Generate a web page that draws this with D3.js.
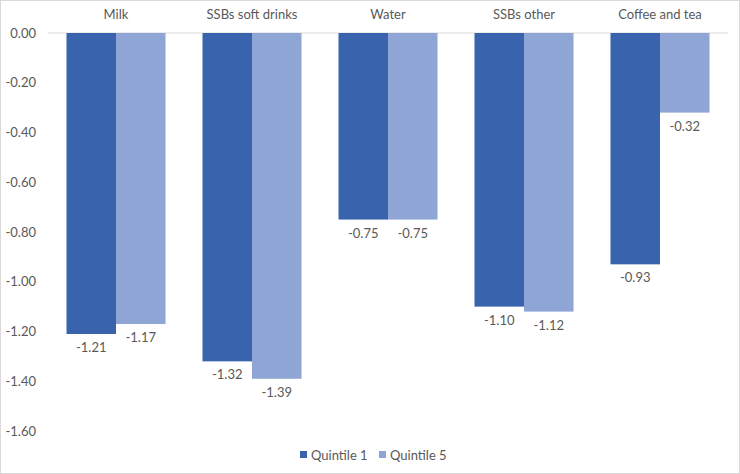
<!DOCTYPE html>
<html>
<head>
<meta charset="utf-8">
<script src="https://cdn.jsdelivr.net/npm/d3@7"></script>
<style>
  html, body { margin: 0; padding: 0; background: #fff; }
  svg { display: block; }
  text { font-family: Lato, "Open Sans", "Liberation Sans", sans-serif; fill: #595959; }
</style>
</head>
<body>
<svg id="chart" width="740" height="474"></svg>
<script>
const categories = ["Milk", "SSBs soft drinks", "Water", "SSBs other", "Coffee and tea"];
const seriesNames = ["Quintile 1", "Quintile 5"];
const quintile1 = [-1.21, -1.32, -0.75, -1.10, -0.93];
const quintile5 = [-1.17, -1.39, -0.75, -1.12, -0.32];
const yTicks = [0, -0.2, -0.4, -0.6, -0.8, -1.0, -1.2, -1.4, -1.6];
const colors = ["#3A63AD", "#8FA5D6"];

const W = 740, H = 474;
const margin = { left: 48, right: 12, top: 33, bottom: 43 };
const svg = d3.select("#chart");
const fmt = v => d3.format(".2f")(v).replace("\u2212", "-");

svg.append("rect").attr("x", 0.5).attr("y", 0.5).attr("width", W - 1).attr("height", H - 1)
  .attr("fill", "#fff").attr("stroke", "#D9D9D9");

const x0 = d3.scaleBand().domain(categories).range([margin.left, W - margin.right]).paddingInner(0.272).paddingOuter(0.136);
const x1 = d3.scaleBand().domain(seriesNames).range([0, x0.bandwidth()]);
const y = d3.scaleLinear().domain([0, -1.6]).range([margin.top, H - margin.bottom]);

// gridline at zero
svg.append("line").attr("x1", margin.left).attr("x2", W - margin.right)
  .attr("y1", y(0)).attr("y2", y(0)).attr("stroke", "#D9D9D9").attr("stroke-width", 1);

// y axis
const yAxis = d3.axisLeft(y).tickValues(yTicks).tickFormat(fmt).tickSize(0).tickPadding(12);
const ga = svg.append("g").attr("transform", `translate(${margin.left},0)`).call(yAxis);
ga.select(".domain").remove();
ga.selectAll("text").style("font-size", "13px").attr("fill", "#595959")
  .style("font-family", "Lato, 'Open Sans', sans-serif");

const data = categories.map((c, i) => ({ cat: c, vals: [quintile1[i], quintile5[i]] }));

const groups = svg.selectAll("g.grp").data(data).join("g").attr("class", "grp")
  .attr("transform", d => `translate(${x0(d.cat)},0)`);

groups.selectAll("rect").data(d => d.vals.map((v, j) => ({ v, s: seriesNames[j], j })))
  .join("rect")
  .attr("x", d => x1(d.s))
  .attr("y", y(0))
  .attr("width", x1.bandwidth())
  .attr("height", d => y(d.v) - y(0))
  .attr("fill", d => colors[d.j]);

groups.selectAll("text.lbl").data(d => d.vals.map((v, j) => ({ v, s: seriesNames[j], j })))
  .join("text").attr("class", "lbl")
  .attr("x", d => x1(d.s) + x1.bandwidth() / 2)
  .attr("y", d => y(d.v) + 18)
  .attr("text-anchor", "middle")
  .style("font-size", "13px")
  .text(d => fmt(d.v));

// category labels at top
svg.selectAll("text.cat").data(categories).join("text").attr("class", "cat")
  .attr("x", d => x0(d) + x0.bandwidth() / 2)
  .attr("y", 19)
  .attr("text-anchor", "middle")
  .style("font-size", "13px")
  .text(d => d);

// legend
const legend = svg.append("g");
const legX = [300, 379];
seriesNames.forEach((s, i) => {
  legend.append("rect").attr("x", legX[i]).attr("y", 451).attr("width", 7).attr("height", 7).attr("fill", colors[i]);
  legend.append("text").attr("x", legX[i] + 11).attr("y", 459.5).style("font-size", "13px").text(s);
});
</script>
</body>
</html>
